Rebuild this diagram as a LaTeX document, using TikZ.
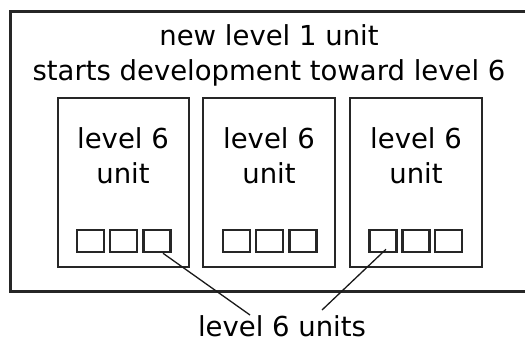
\documentclass[tikz,border=0pt]{standalone}
\usepackage{fontspec}
\setmainfont{DejaVu Sans}
\usetikzlibrary{calc}
\begin{document}
\begin{tikzpicture}[x=1bp,y=-1bp,
  txt/.style={font=\fontsize{27.5bp}{35bp}\selectfont, inner sep=0pt, anchor=base},
  outerbox/.style={draw=black!85, line width=3bp},
  unitbox/.style={draw=black!85, line width=2.5bp, inner sep=0pt, minimum height=169bp},
  sq/.style={draw=black!85, line width=2.5bp, minimum width=27bp, minimum height=22bp, inner sep=0pt},
  conn/.style={draw=black!90, line width=1.3bp}]
\useasboundingbox (0,0) rectangle (525,341);
\begin{scope}
\clip (0,0) rectangle (525,341);
\draw[outerbox] (10,11) rectangle (540,291);
\end{scope}
\node[txt] (t1) at (269,45) {new level 1 unit};
\node[txt] (t2) at (269,80) {starts development toward level 6};
\node[unitbox, minimum width=131bp] (u1) at (123.5,182.5) {};
\node[unitbox, minimum width=132bp] (u2) at (269,182.5) {};
\node[unitbox, minimum width=132bp] (u3) at (416,182.5) {};
\node[txt] (l1a) at (123,148) {level 6};
\node[txt] (l1b) at (123,183) {unit};
\node[txt] (l2a) at (269,148) {level 6};
\node[txt] (l2b) at (269,183) {unit};
\node[txt] (l3a) at (416,148) {level 6};
\node[txt] (l3b) at (416,183) {unit};
\node[sq] (s11) at (90.5,241) {};
\node[sq] (s12) at (123.5,241) {};
\node[sq] (s13) at (157,241) {};
\node[sq] (s21) at (236.5,241) {};
\node[sq] (s22) at (269.5,241) {};
\node[sq] (s23) at (303,241) {};
\node[sq] (s31) at (383,241) {};
\node[sq] (s32) at (416,241) {};
\node[sq] (s33) at (448.5,241) {};
\node[txt] (lbl) at (282,336) {level 6 units};
\coordinate (a1) at ($(s13.south)+(6,0)$);
\coordinate (a2) at ($(s31.south)+(3,-4)$);
\coordinate (b1) at (250,315);
\coordinate (b2) at (322,310);
\draw[conn] (a1) -- (b1);
\draw[conn] (a2) -- (b2);
\end{tikzpicture}
\end{document}
